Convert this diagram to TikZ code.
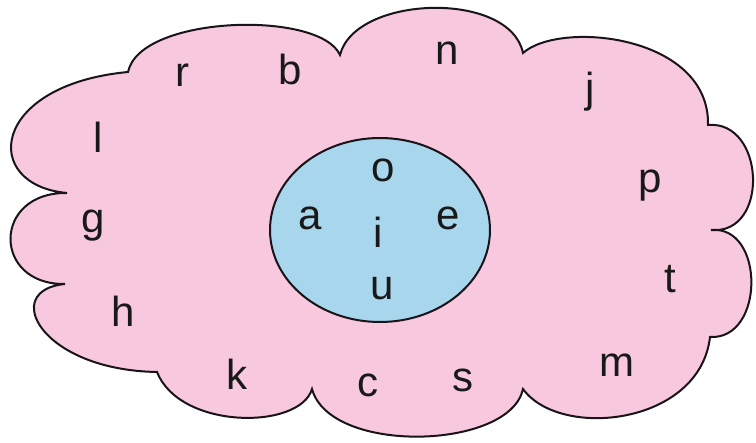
\documentclass[tikz,border=0pt]{standalone}
\usepackage{fontspec}
\setmainfont{Liberation Sans}
\usetikzlibrary{shapes.geometric}
\definecolor{cloudpink}{RGB}{248,200,222}
\definecolor{setblue}{RGB}{168,214,236}
\definecolor{outline}{RGB}{25,20,25}
\begin{document}
\begin{tikzpicture}[x=0.5pt,y=-0.5pt,
  letter/.style={anchor=base,inner sep=0pt,font=\fontsize{21}{25}\selectfont,text=black!90},
  border/.style={draw=outline,line width=1pt}]
\useasboundingbox (0,0) rectangle (756,443);
\fill[white] (0,0) rectangle (756,443);
% cusp points of the cloud
\coordinate (c1) at (128,72);
\coordinate (c2) at (340,55);
\coordinate (c3) at (523,53);
\coordinate (c4) at (708,125);
\coordinate (c5) at (711,230);
\coordinate (c6) at (710,337);
\coordinate (c7) at (523,389);
\coordinate (c8) at (312,389);
\coordinate (c9) at (157,372);
\coordinate (c10) at (65,284);
\coordinate (c11) at (67,193);
\path[border,fill=cloudpink,line join=miter]
  (c11) .. controls (-20,185) and (-10,85) .. (c1)
  .. controls (140,15) and (320,10) .. (c2)
  .. controls (355,-5) and (510,-10) .. (c3)
  .. controls (560,20) and (710,35) .. (c4)
  .. controls (765,120) and (770,235) .. (c5)
  .. controls (765,225) and (765,340) .. (c6)
  .. controls (700,425) and (560,440) .. (c7)
  .. controls (510,450) and (330,455) .. (c8)
  .. controls (300,430) and (180,430) .. (c9)
  .. controls (40,370) and (0,290) .. (c10)
  .. controls (-8,285) and (-8,192) .. cycle;
% vowel set
\node[border,fill=setblue,ellipse,minimum width=110pt,minimum height=92pt,inner sep=0pt] (vowels) at (380,230) {};
% letters outside
\node[letter] (r) at (182,87) {r};
\node[letter] (b) at (290,85) {b};
\node[letter] (n) at (447,65) {n};
\node[letter] (j) at (590,103) {j};
\node[letter] (l) at (98,153) {l};
\node[letter] (p) at (650,193) {p};
\node[letter] (g) at (93,233) {g};
\node[letter] (t) at (670,293) {t};
\node[letter] (h) at (123,327) {h};
\node[letter] (m) at (617,377) {m};
\node[letter] (k) at (237,390) {k};
\node[letter] (c) at (368,397) {c};
\node[letter] (s) at (463,392) {s};
% vowels
\node[letter] (o) at (383,182) {o};
\node[letter] (a) at (310,230) {a};
\node[letter] (i) at (378,248) {i};
\node[letter] (e) at (448,230) {e};
\node[letter] (u) at (382,300) {u};
\end{tikzpicture}
\end{document}
